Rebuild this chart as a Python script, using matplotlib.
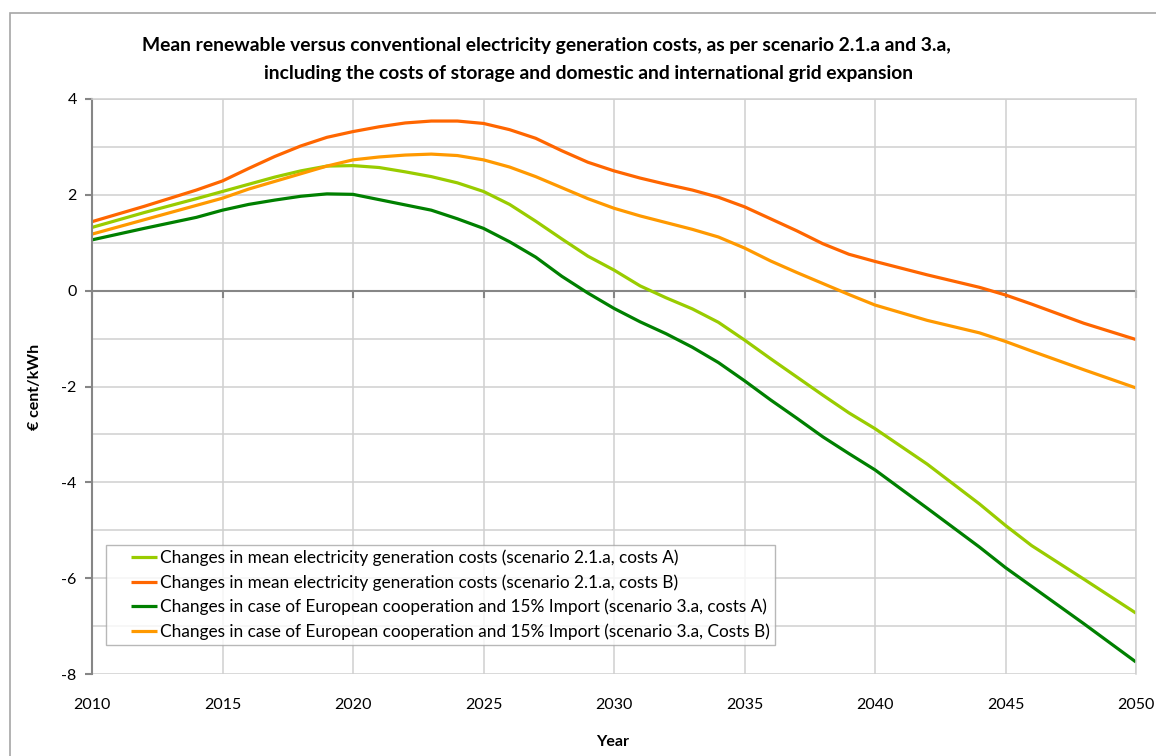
import matplotlib
matplotlib.use("Agg")
import matplotlib.pyplot as plt
from matplotlib.patches import Rectangle
from matplotlib.lines import Line2D
from matplotlib.legend_handler import HandlerLine2D
from matplotlib.ticker import MultipleLocator, FixedLocator

plt.rcParams['font.family'] = ['Lato', 'DejaVu Sans']
plt.rcParams['axes.unicode_minus'] = False

# years at which the cost differences were read
years = [2010, 2012, 2014, 2015, 2016, 2017, 2018, 2019, 2020, 2021, 2022, 2023,
         2024, 2025, 2026, 2027, 2028, 2029, 2030, 2031, 2032, 2033, 2034, 2035,
         2036, 2037, 2038, 2039, 2040, 2042, 2044, 2045, 2046, 2048, 2050]

# scenario 2.1.a, costs A
s21_costs_a = [1.32, 1.63, 1.92, 2.07, 2.22, 2.37, 2.50, 2.60, 2.61, 2.57, 2.48, 2.38,
               2.25, 2.07, 1.80, 1.45, 1.08, 0.72, 0.43, 0.10, -0.15, -0.38, -0.66, -1.03,
               -1.42, -1.80, -2.18, -2.55, -2.88, -3.62, -4.45, -4.90, -5.32, -6.02, -6.73]
# scenario 2.1.a, costs B
s21_costs_b = [1.44, 1.76, 2.10, 2.29, 2.55, 2.80, 3.02, 3.20, 3.32, 3.42, 3.50, 3.54,
               3.54, 3.49, 3.36, 3.18, 2.92, 2.68, 2.50, 2.35, 2.22, 2.10, 1.95, 1.75,
               1.50, 1.25, 0.98, 0.76, 0.61, 0.33, 0.07, -0.09, -0.28, -0.68, -1.02]
# scenario 3.a (European cooperation, 15% import), costs A
s3a_costs_a = [1.06, 1.30, 1.53, 1.68, 1.80, 1.89, 1.97, 2.02, 2.01, 1.90, 1.79, 1.68,
               1.50, 1.30, 1.02, 0.70, 0.30, -0.05, -0.37, -0.65, -0.90, -1.18, -1.50, -1.88,
               -2.28, -2.66, -3.05, -3.40, -3.74, -4.54, -5.35, -5.78, -6.17, -6.95, -7.75]
# scenario 3.a (European cooperation, 15% import), costs B
s3a_costs_b = [1.18, 1.48, 1.78, 1.93, 2.12, 2.28, 2.44, 2.60, 2.73, 2.79, 2.83, 2.85,
               2.82, 2.73, 2.58, 2.38, 2.15, 1.92, 1.72, 1.56, 1.42, 1.28, 1.12, 0.89,
               0.62, 0.38, 0.15, -0.08, -0.30, -0.62, -0.88, -1.06, -1.26, -1.65, -2.03]

labels = [
    "Changes in mean electricity generation costs (scenario 2.1.a, costs A)",
    "Changes in mean electricity generation costs (scenario 2.1.a, costs B)",
    "Changes in case of European cooperation and 15% Import (scenario 3.a, costs A)",
    "Changes in case of European cooperation and 15% Import (scenario 3.a, Costs B)",
]
colors = ["#99CC00", "#FF6600", "#008000", "#FF9900"]
series = [s21_costs_a, s21_costs_b, s3a_costs_a, s3a_costs_b]
year_ticks = list(range(2010, 2051, 5))

fig = plt.figure(figsize=(11.56, 7.56), dpi=100)
fig.patches.append(Rectangle((10 / 1156, -0.1), 1.2, 1 - 13 / 756 + 0.1,
                             transform=fig.transFigure, fill=False,
                             edgecolor="#A6A6A6", linewidth=1.2))

ax = fig.add_axes([92 / 1156, 1 - 674 / 756, (1136 - 92) / 1156, (674 - 99) / 756])

for vals, lab, col in zip(series, labels, colors):
    ax.plot(years, vals, color=col, linewidth=2.3, label=lab, solid_capstyle='butt')

ax.set_xlim(2010, 2050)
ax.set_ylim(-8, 4)
ax.xaxis.set_major_locator(FixedLocator(year_ticks))
ax.yaxis.set_major_locator(MultipleLocator(2))
ax.yaxis.set_minor_locator(MultipleLocator(1))
ax.grid(True, which='both', color="#D0D0D0", linewidth=1.1)
ax.set_axisbelow(True)

# horizontal axis crosses at zero, labels stay at the bottom
ax.spines['bottom'].set_position(('data', 0))
ax.spines['bottom'].set_color("#868686")
ax.spines['bottom'].set_linewidth(1.5)
ax.spines['bottom'].set_zorder(1.5)
ax.spines['left'].set_color("#868686")
ax.spines['left'].set_linewidth(1.5)
for side in ('top', 'right'):
    ax.spines[side].set_color("#D0D0D0")
    ax.spines[side].set_linewidth(1.1)
ax.tick_params(axis='x', direction='out', length=5, width=1.5, color="#868686",
               labelbottom=False)
ax.tick_params(axis='y', which='major', direction='out', length=5, width=1.5,
               color="#868686", labelsize=11.5, pad=6)
ax.tick_params(axis='y', which='minor', length=0)

sec = ax.secondary_xaxis(0)
sec.xaxis.set_major_locator(FixedLocator(year_ticks))
sec.spines['bottom'].set_visible(False)
sec.tick_params(length=0, labelsize=11.5, pad=17)

ax.set_ylabel("€ cent/kWh", fontsize=11.5, fontweight='bold', labelpad=14)
fig.text(613 / 1156, 1 - 742 / 756, "Year", fontsize=11.5, fontweight='bold',
         ha='center', va='center')

fig.text(546 / 1156, 1 - 46 / 756,
         "Mean renewable versus conventional electricity generation costs, as per scenario 2.1.a and 3.a,",
         fontsize=13.9, fontweight='bold', ha='center', va='center')
fig.text(589 / 1156, 1 - 74 / 756,
         "including the costs of storage and domestic and international grid expansion",
         fontsize=13.9, fontweight='bold', ha='center', va='center')

# legend handles sit indented inside the box
leg = ax.legend(loc='lower left', bbox_to_anchor=((106 - 92) / 1044, (674 - 645) / 575),
                frameon=True, fancybox=False, edgecolor="#A6A6A6", fontsize=12.4,
                handlelength=2.67, handletextpad=0.17, borderpad=0.3, labelspacing=0.46,
                borderaxespad=0, handler_map={Line2D: HandlerLine2D(xpad=1.16)})
leg.get_frame().set_linewidth(1.0)

fig.savefig("out.png", dpi=100)
